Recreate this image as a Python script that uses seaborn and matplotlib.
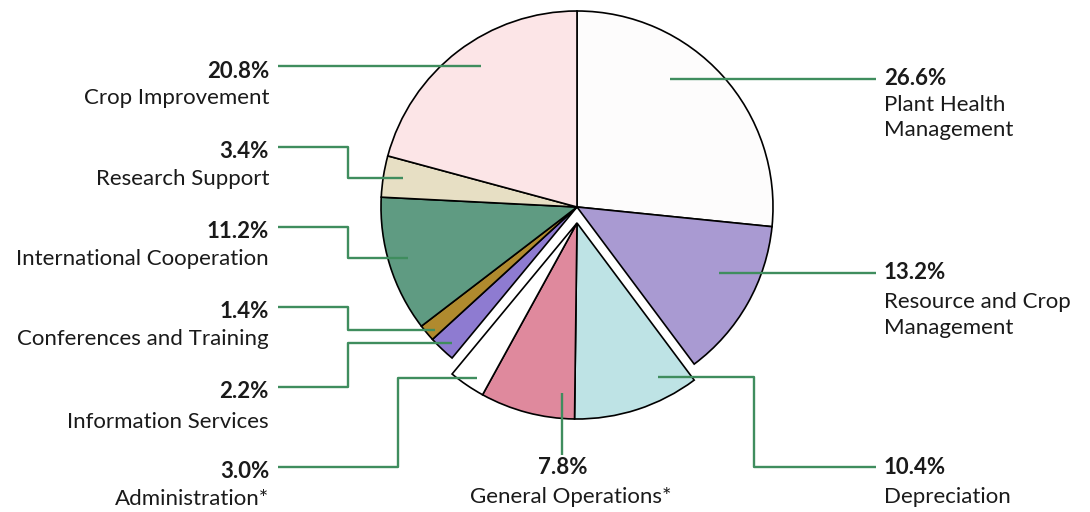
import numpy as np
import matplotlib
matplotlib.use("Agg")
import matplotlib.pyplot as plt
import seaborn as sns

# Budget shares, clockwise from 12 o'clock
categories = ["Plant Health\nManagement", "Resource and Crop\nManagement", "Depreciation",
              "General Operations*", "Administration*", "Information Services",
              "Conferences and Training", "International Cooperation", "Research Support",
              "Crop Improvement"]
shares = [26.6, 13.2, 10.4, 7.8, 3.0, 2.2, 1.4, 11.2, 3.4, 20.8]
pct_labels = ["26.6%", "13.2%", "10.4%", "7.8%", "3.0%", "2.2%", "1.4%", "11.2%", "3.4%", "20.8%"]
colors = ["#fdfcfc", "#a99ad2", "#bee3e5", "#df899d", "#ffffff", "#8e7bd1",
          "#b08a2e", "#5f9b82", "#e7dfc4", "#fce5e7"]
pulled_out = ["Depreciation", "General Operations*", "Administration*"]

sns.set_theme(style="white")
plt.rcParams["font.family"] = ["Lato", "DejaVu Sans"]

W, H = 1090, 512
fig = plt.figure(figsize=(W / 100, H / 100), dpi=100)
ax = fig.add_axes([0, 0, 1, 1])

def Y(py):
    return H - py

cx, cy, R = 577, Y(207), 196
shift = 16

wedges, _ = ax.pie(shares, colors=colors, startangle=90, counterclock=False,
                   center=(cx, cy), radius=R, frame=True,
                   wedgeprops=dict(edgecolor="black", linewidth=1.2))
ax.set_xlim(0, W)
ax.set_ylim(0, H)
ax.set_aspect("equal")
ax.axis("off")

# pull the lower group straight down as one block
for w, name in zip(wedges, categories):
    if name in pulled_out:
        w.set_center((cx, cy - shift))

def anchor(i, t, rf):
    w = wedges[i]
    ang = np.deg2rad(w.theta2 - t * (w.theta2 - w.theta1))
    c = w.center
    return c[0] + rf * R * np.cos(ang), c[1] + rf * R * np.sin(ang)

green = "#3f8d5e"
lw = 1.7
fs = 16
ink = "#1a1a1a"

# (t within wedge, radius fraction) for each leader end
anch = {
    0: (0.376, 0.81), 1: (0.40, 0.80), 2: (0.24, 0.89), 3: (0.15, 0.87),
    4: (0.37, 0.94), 5: (0.38, 0.94), 6: (0.31, 0.96), 7: (0.51, 0.90),
    8: (0.53, 0.90), 9: (0.54, 0.87),
}
A = {i: anchor(i, *v) for i, v in anch.items()}

def line(pts):
    xs, ys = zip(*pts)
    ax.plot(xs, ys, color=green, lw=lw, solid_capstyle="butt", zorder=5)

def block(x, y, i, ha, gap=27, step=25):
    ax.text(x, y, pct_labels[i], ha=ha, va="center", fontsize=fs, fontweight="bold", color=ink)
    for k, part in enumerate(categories[i].split("\n")):
        ax.text(x, y - gap - k * step, part, ha=ha, va="center", fontsize=fs, color=ink)

# right side
xr_line, xr_text = 876, 884
for i in (0, 1):
    px_, py_ = A[i]
    line([A[i], (xr_line, py_)])
    block(xr_text, py_, i, "left", gap=26 if i == 0 else 29, step=25 if i == 0 else 26)

px_, py_ = A[2]
line([A[2], (754, py_), (754, Y(467)), (xr_line, Y(467))])
block(xr_text, Y(467), 2, "left", gap=30)

# bottom
px_, py_ = A[3]
line([A[3], (px_, Y(455))])
ax.text(px_, Y(468), pct_labels[3], ha="center", va="center", fontsize=fs, fontweight="bold", color=ink)
ax.text(px_ + 8, Y(497), categories[3], ha="center", va="center", fontsize=fs, color=ink)

# left side
xl_line, xl_text = 278, 269
left = [(9, None, None), (8, 147, 348), (7, 227, 348), (6, 307, 348), (5, 387, 348), (4, 467, 398)]
for i, py, ex in left:
    px_, py_ = A[i]
    if py is None:
        ly = py_
        line([(xl_line, ly), A[i]])
    else:
        ly = Y(py)
        line([(xl_line, ly), (ex, ly), (ex, py_), A[i]])
    gap = 30 if i == 5 else 27
    ax.text(xl_text, ly - 5, pct_labels[i], ha="right", va="center", fontsize=fs, fontweight="bold", color=ink)
    ax.text(xl_text, ly - 5 - gap, categories[i], ha="right", va="center", fontsize=fs, color=ink)

fig.savefig("out.png", dpi=100, facecolor="white")
